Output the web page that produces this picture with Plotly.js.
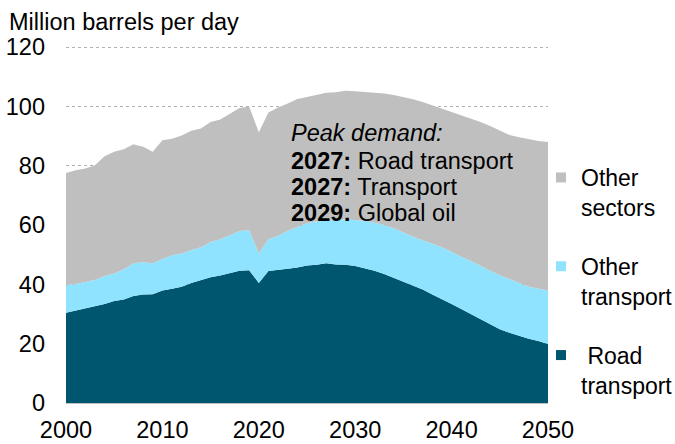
<!DOCTYPE html>
<html>
<head>
<meta charset="utf-8">
<script src="https://cdn.plot.ly/plotly-3.0.1.min.js"></script>
<style>html,body{margin:0;padding:0;background:#fff;}#chart{width:675px;height:444px;}</style>
</head>
<body>
<div id="chart"></div>
<script>
// Years 2000-2050
const years = [2000,2001,2002,2003,2004,2005,2006,2007,2008,2009,2010,2011,2012,2013,2014,2015,2016,2017,2018,2019,2020,2021,2022,2023,2024,2025,2026,2027,2028,2029,2030,2031,2032,2033,2034,2035,2036,2037,2038,2039,2040,2041,2042,2043,2044,2045,2046,2047,2048,2049,2050];

// Road transport demand (mb/d)
const roadTransport = [30.4,31.1,31.9,32.5,33.4,34.4,34.9,36.1,36.6,36.7,37.9,38.5,39.2,40.5,41.5,42.4,43.0,43.7,44.6,44.8,40.5,44.5,44.8,45.3,45.7,46.4,46.6,47.1,46.7,46.6,46.2,45.5,44.6,43.5,42.2,40.9,39.5,38.3,36.6,35.1,33.4,31.7,30.0,28.2,26.5,24.9,23.7,22.6,21.7,20.9,19.9];

// Total transport (road + other transport)
const totalTransport = [39.8,40.1,40.8,41.5,42.8,43.7,45.1,47.1,47.5,47.1,48.6,49.8,50.4,51.6,52.5,54.3,55.2,56.6,58.0,58.3,50.4,55.2,56.3,58.1,59.4,60.6,61.3,61.7,61.9,61.9,61.7,61.5,60.8,60.0,58.9,57.4,56.1,54.9,53.8,52.5,51.0,49.3,47.9,46.2,44.6,43.1,41.7,40.5,39.2,38.6,37.9];

// Global oil demand (total)
const globalOil = [77.6,78.5,79.1,80.2,83.2,84.7,85.6,87.3,86.4,84.7,88.6,89.1,90.2,91.8,92.6,94.8,95.6,97.6,99.5,100.0,91.3,98.0,99.7,101.0,102.5,103.2,103.9,104.6,104.8,105.3,105.1,104.9,104.7,104.4,103.9,103.2,102.4,101.5,100.4,99.4,98.3,97.2,96.0,94.8,93.4,91.8,90.4,89.6,88.9,88.4,88.0];

const otherTransport = totalTransport.map((v,i)=> +(v - roadTransport[i]).toFixed(2));
const otherSectors = globalOil.map((v,i)=> +(v - totalTransport[i]).toFixed(2));

const seriesNames = [' Road<br>transport','Other<br>transport','Other<br>sectors'];
const colors = ['#00566e','#8fe3fe','#bfbfbf'];

const yTicks = [0,20,40,60,80,100,120];
const xTicks = [2000,2010,2020,2030,2040,2050];

const FONT = 'Arial, "Liberation Sans", sans-serif';
const FS = 23.5;

const areaData = [roadTransport, otherTransport, otherSectors];
const traces = areaData.map((arr,i)=>({
  x: years, y: arr, type:'scatter', mode:'lines', stackgroup:'one',
  fill: i===0 ? 'tozeroy' : 'tonexty',
  line:{width:0, color:colors[i]}, fillcolor: colors[i],
  showlegend:false, hoverinfo:'x+y', name: seriesNames[i]
}));
// legend entries (square swatches), top to bottom
[2,1,0].forEach(i=>{
  traces.push({x:[null], y:[null], type:'scatter', mode:'markers',
    marker:{symbol:'square', size:10, color:colors[i]},
    name: seriesNames[i], legendgroup:'g'+i, showlegend:true});
});

const W=482, H=357;
function px(xp){return (xp-66)/W;}
function py(yp){return (403-yp)/H;}

const layout = {
  width:675, height:444,
  margin:{l:66, r:127, t:46, b:41, autoexpand:false},
  paper_bgcolor:'#fff', plot_bgcolor:'rgba(0,0,0,0)',
  font:{family:FONT, size:FS, color:'#000'},
  xaxis:{range:[2000,2050], tickvals:xTicks, ticktext:xTicks.map(String), showgrid:false,
    zeroline:false, showline:true, linecolor:'#bfbfbf', linewidth:1, ticks:'',
    ticklabelstandoff:6, tickfont:{size:FS, family:FONT, color:'#000'}, fixedrange:true, automargin:false},
  yaxis:{range:[0,120.4], tickvals:yTicks, showgrid:true, gridcolor:'#b0b0b0', gridwidth:1,
    griddash:'dot', zeroline:false, showline:false, ticks:'',
    ticklabelstandoff:20, tickfont:{size:FS, family:FONT, color:'#000'}, fixedrange:true, automargin:false},
  showlegend:true,
  legend:{x:px(541), xanchor:'left', y:py(156), yanchor:'top', bgcolor:'rgba(0,0,0,0)',
    font:{size:23, family:FONT, color:'#000'}, valign:'top', tracegroupgap:26,
    itemclick:false, itemdoubleclick:false},
  annotations:[
    {text:'Million barrels per day', xref:'paper', yref:'paper', x:px(7), y:py(22),
     xanchor:'left', yanchor:'middle', showarrow:false, font:{size:FS, family:FONT, color:'#000'}},
    {text:'<i>Peak demand:</i>', xref:'paper', yref:'paper', x:px(289), y:py(133),
     xanchor:'left', yanchor:'middle', showarrow:false, font:{size:FS, family:FONT, color:'#000'}},
    {text:'<b>2027:</b> Road transport', xref:'paper', yref:'paper', x:px(289), y:py(161),
     xanchor:'left', yanchor:'middle', showarrow:false, font:{size:FS, family:FONT, color:'#000'}},
    {text:'<b>2027:</b> Transport', xref:'paper', yref:'paper', x:px(289), y:py(187),
     xanchor:'left', yanchor:'middle', showarrow:false, font:{size:FS, family:FONT, color:'#000'}},
    {text:'<b>2029:</b> Global oil', xref:'paper', yref:'paper', x:px(289), y:py(213),
     xanchor:'left', yanchor:'middle', showarrow:false, font:{size:FS, family:FONT, color:'#000'}}
  ]
};

Plotly.newPlot('chart', traces, layout, {displayModeBar:false, staticPlot:true});
</script>
</body>
</html>
